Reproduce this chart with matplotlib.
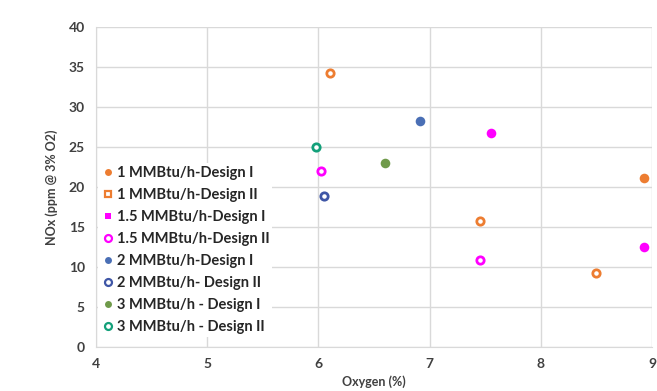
import matplotlib
matplotlib.use("Agg")
import matplotlib.pyplot as plt
from matplotlib.lines import Line2D

plt.rcParams['font.family'] = ['Lato', 'DejaVu Sans']

labels = ["1 MMBtu/h-Design I", "1 MMBtu/h-Design II", "1.5 MMBtu/h-Design I",
          "1.5 MMBtu/h-Design II", "2 MMBtu/h-Design I", "2 MMBtu/h- Design II",
          "3 MMBtu/h - Design I", "3 MMBtu/h - Design II"]
x_vals = [[8.93], [6.1, 7.45, 8.5], [7.55, 8.93], [6.02, 7.45], [6.91], [6.05], [6.6], [5.98]]
y_vals = [[21.1], [34.3, 15.8, 9.2], [26.8, 12.5], [22.0, 10.9], [28.3], [18.9], [23.0], [25.0]]
colors = ["#ED7D31", "#ED7D31", "#FF00FF", "#FF00FF", "#4A6FB5", "#3F56A6", "#6F9A4A", "#13A07A"]
filled = [True, False, True, False, True, False, True, False]
legend_markers = ["o", "s", "s", "o", "o", "o", "o", "o"]

fig = plt.figure(figsize=(6.57, 3.91), dpi=100)
ax = fig.add_axes([96/657, 44/391, 556/657, 320/391])

for xs, ys, c, f in zip(x_vals, y_vals, colors, filled):
    if f:
        ax.scatter(xs, ys, s=48, color=c, marker="o", zorder=3, linewidths=0)
    else:
        ax.scatter(xs, ys, s=28, facecolor="white", edgecolor=c, marker="o",
                   linewidths=2.0, zorder=3)

ax.set_xlim(4, 9)
ax.set_ylim(0, 40)
ax.set_xticks([4, 5, 6, 7, 8, 9])
ax.set_yticks(range(0, 41, 5))
ax.grid(True, color="#D9D9D9", linewidth=1)
ax.set_axisbelow(True)
for s in ax.spines.values():
    s.set_visible(False)
ax.spines['left'].set_visible(True)
ax.spines['left'].set_color("#D9D9D9")
ax.spines['bottom'].set_visible(True)
ax.spines['bottom'].set_color("#D9D9D9")
ax.tick_params(length=0, labelsize=10, labelcolor="#404040", pad=8)
for t in ax.get_xticklabels() + ax.get_yticklabels():
    t.set_fontweight("bold")
ax.set_xlabel("Oxygen (%)", fontsize=9, fontweight="bold", color="#404040", labelpad=4)
ax.set_ylabel("NOx (ppm @ 3% O2)", fontsize=9, fontweight="bold", color="#404040", labelpad=8)

handles = []
for c, f, m in zip(colors, filled, legend_markers):
    if f:
        handles.append(Line2D([], [], linestyle="none", marker=m, markersize=5,
                              markerfacecolor=c, markeredgecolor=c, markeredgewidth=0))
    else:
        handles.append(Line2D([], [], linestyle="none", marker=m, markersize=5,
                              markerfacecolor="white", markeredgecolor=c, markeredgewidth=1.6))

leg = ax.legend(handles, labels, loc="lower left", bbox_to_anchor=(-0.01, 0.008), frameon=True,
                framealpha=1, edgecolor="none", facecolor="white",
                prop={"size": 10.5, "weight": "bold"}, handletextpad=0.1,
                labelspacing=0.55, borderpad=0.2, handlelength=1.0)
for t in leg.get_texts():
    t.set_color("#262626")

fig.savefig("out.png", dpi=100)
